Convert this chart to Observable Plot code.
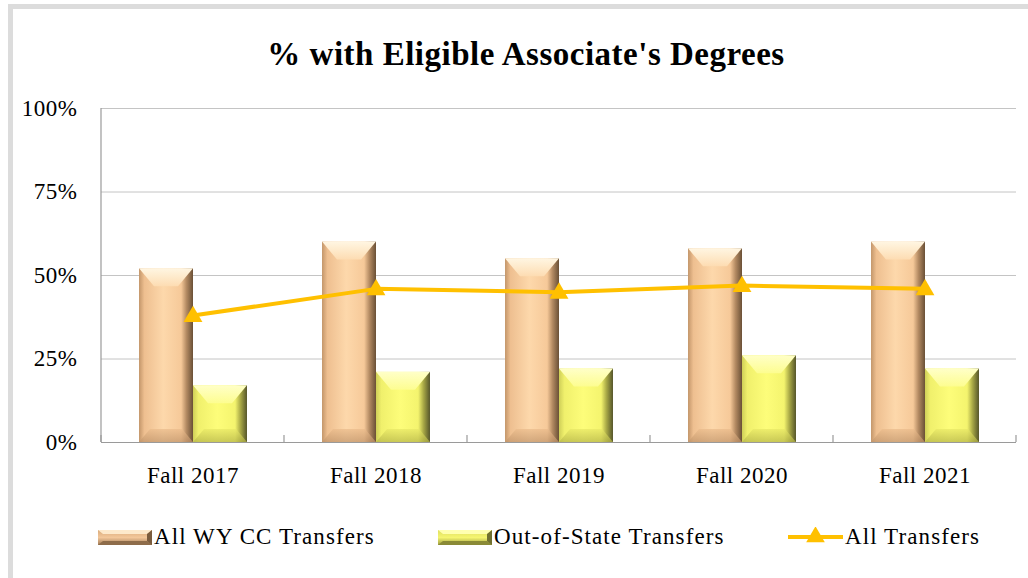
<!DOCTYPE html>
<html>
<head>
<meta charset="utf-8">
<script src="https://cdn.jsdelivr.net/npm/d3@7"></script>
<script src="https://cdn.jsdelivr.net/npm/@observablehq/plot@0.6"></script>
<style>
  html, body { margin: 0; padding: 0; background: #fff; }
  #wrap { position: relative; width: 1028px; height: 578px; overflow: hidden; background: #fff; font-family: "Liberation Serif", "DejaVu Serif", serif; }
  #border { position: absolute; left: 8px; top: 4px; width: 1200px; height: 800px; border-left: 5px solid #dcdcdc; border-top: 5px solid #dcdcdc; }
  #title { position: absolute; left: 24px; top: 36px; width: 1004px; text-align: center; font-weight: bold; font-size: 33px; letter-spacing: 0.5px; color: #000; }
  #chart { position: absolute; left: 0; top: 85px; }
  .leg { position: absolute; top: 522px; height: 30px; display: flex; align-items: center; font-size: 23px; letter-spacing: 1.1px; color: #000; white-space: nowrap; }
  .leg svg { display: block; margin-right: 1px; }
</style>
</head>
<body>
<div id="wrap">
  <div id="border"></div>
  <div id="title">% with Eligible Associate's Degrees</div>
  <div id="chart"></div>
  <div id="legend"></div>
</div>
<script>
// ---- data ----
const categories = ["Fall 2017", "Fall 2018", "Fall 2019", "Fall 2020", "Fall 2021"];
const seriesNames = ["All WY CC Transfers", "Out-of-State Transfers", "All Transfers"];
const wyTransfers = [0.52, 0.60, 0.55, 0.58, 0.60];
const outOfState = [0.17, 0.21, 0.22, 0.26, 0.22];
const allTransfers = [0.38, 0.46, 0.45, 0.47, 0.46];
const yTicks = [0, 0.25, 0.5, 0.75, 1];

const wyData = categories.map((c, i) => ({cat: c, v: wyTransfers[i]}));
const oosData = categories.map((c, i) => ({cat: c, v: outOfState[i]}));
const allData = categories.map((c, i) => ({cat: c, v: allTransfers[i]}));

const W = 1028, H = 410, ML = 101, MR = 12, MT = 23, MB = 53;
const bw = (W - ML - MR) / categories.length;
const barW = bw * 0.295;
const pairLeft = (bw - 2 * barW) / 2 + 0.5;

const lineColor = "#ffc000";

const plot = Plot.plot({
  width: W, height: H,
  marginLeft: ML, marginRight: MR, marginTop: MT, marginBottom: MB,
  style: {fontFamily: '"Liberation Serif", "DejaVu Serif", serif', fontSize: "23px", color: "#000", background: "transparent", letterSpacing: "0.5px"},
  x: {domain: categories, padding: 0, label: null},
  y: {domain: [0, 1], label: null},
  marks: [
    Plot.gridY({ticks: yTicks.filter(d => d > 0), stroke: "#c4c4c4", strokeOpacity: 1, strokeWidth: 1}),
    Plot.axisY({ticks: yTicks, tickFormat: d => Math.round(d * 100) + "%", tickSize: 0, tickPadding: 24, fontSize: 23, label: null}),
    Plot.axisX({tickSize: 0, tickPadding: 24, fontSize: 23, label: null}),
    Plot.barY(wyData, {x: "cat", y: "v", fill: "url(#gWY)", insetLeft: pairLeft, insetRight: bw - pairLeft - barW}),
    Plot.barY(oosData, {x: "cat", y: "v", fill: "url(#gOOS)", insetLeft: pairLeft + barW, insetRight: bw - pairLeft - 2 * barW}),
    Plot.ruleY([0], {stroke: "#9a9a9a", strokeWidth: 1.2}),
    Plot.lineY(allData, {x: "cat", y: "v", stroke: lineColor, strokeWidth: 4}),
    Plot.dot(allData, {x: "cat", y: "v", symbol: "triangle", r: 7, fill: lineColor, stroke: "none", dy: 1})
  ]
});

const svg = d3.select(plot);
const defs = svg.insert("defs", ":first-child");

function hGrad(id, stops) {
  const g = defs.append("linearGradient").attr("id", id).attr("x1", 0).attr("x2", 1).attr("y1", 0).attr("y2", 0);
  stops.forEach(([o, c]) => g.append("stop").attr("offset", o).attr("stop-color", c));
}
function vGrad(id, stops) {
  const g = defs.append("linearGradient").attr("id", id).attr("x1", 0).attr("x2", 0).attr("y1", 0).attr("y2", 1);
  stops.forEach(([o, c]) => g.append("stop").attr("offset", o).attr("stop-color", c));
}
hGrad("gWY", [[0, "#c3966a"], [0.1, "#eebf90"], [0.45, "#fdd8ab"], [0.78, "#f6c999"], [0.88, "#b38a62"], [1, "#6a5036"]]);
hGrad("gOOS", [[0, "#cfcf58"], [0.1, "#f0f06c"], [0.45, "#fdfd7a"], [0.78, "#f4f46e"], [0.88, "#a8a846"], [1, "#55552a"]]);
vGrad("gWYtop", [[0, "#fff6e2"], [1, "#fddcb2"]]);
vGrad("gOOStop", [[0, "#ffffc8"], [1, "#fdfd90"]]);
vGrad("gWYbot", [[0, "#eabb8b"], [1, "#c0946a"]]);
vGrad("gOOSbot", [[0, "#e8e866"], [1, "#b4b448"]]);

const bevel = {
  "url(#gWY)": {top: "url(#gWYtop)", bot: "url(#gWYbot)"},
  "url(#gOOS)": {top: "url(#gOOStop)", bot: "url(#gOOSbot)"}
};

svg.selectAll("g[aria-label='bar']").each(function() {
  const g = d3.select(this);
  const f = g.attr("fill");
  const b = bevel[f];
  if (!b) return;
  g.selectAll("rect").each(function() {
    const r = d3.select(this);
    const x = +r.attr("x"), y = +r.attr("y"), w = +r.attr("width"), h = +r.attr("height");
    const tH = Math.min(18, h / 3), tI = Math.min(15, w / 3);
    const bH = Math.min(13, h / 4), bI = Math.min(11, w / 4);
    g.append("polygon").attr("fill", b.top)
      .attr("points", `${x},${y} ${x + w},${y} ${x + w - tI},${y + tH} ${x + tI},${y + tH}`);
    g.append("polygon").attr("fill", b.bot).attr("opacity", 0.7)
      .attr("points", `${x},${y + h} ${x + w},${y + h} ${x + w - bI},${y + h - bH} ${x + bI},${y + h - bH}`);
  });
});

// axis frame lines & band-boundary ticks, derived from the plot's scales
const xs = plot.scale("x"), ys = plot.scale("y");
const y0 = ys.apply(0), y1 = ys.apply(1);
const xLeft = xs.apply(categories[0]);
const xRight = xs.apply(categories[categories.length - 1]) + xs.bandwidth;
const frame = svg.append("g").attr("stroke", "#9a9a9a").attr("stroke-width", 1.2);
frame.append("line").attr("x1", xLeft).attr("x2", xLeft).attr("y1", y1).attr("y2", y0);
const bounds = categories.map(c => xs.apply(c)).concat([xRight]);
bounds.forEach(bx => frame.append("line").attr("x1", bx).attr("x2", bx).attr("y1", y0 - 7).attr("y2", y0));
svg.selectAll("g[aria-label='line'], g[aria-label='dot']").raise();

document.getElementById("chart").appendChild(plot);

// ---- legend ----
const legend = document.getElementById("legend");
const legendLeft = [97, 437, 788];
function swatch(kind) {
  const s = d3.create("svg").attr("width", 56).attr("height", 20);
  const d = s.append("defs");
  if (kind < 2) {
    const id = kind === 0 ? "WY" : "OOS";
    const base = kind === 0
      ? [[0, "#d9ab7c"], [0.5, "#f3c79a"], [1, "#a07a55"]]
      : [[0, "#dede62"], [0.5, "#f5f570"], [1, "#9c9c40"]];
    const gv = d.append("linearGradient").attr("id", "lg" + id).attr("x1", 0).attr("x2", 0).attr("y1", 0).attr("y2", 1);
    base.forEach(([o, c]) => gv.append("stop").attr("offset", o).attr("stop-color", c));
    s.append("rect").attr("x", 1).attr("y", 3).attr("width", 54).attr("height", 15).attr("fill", `url(#lg${id})`);
    s.append("polygon").attr("points", "1,3 55,3 50,7 6,7").attr("fill", kind === 0 ? "#fde9cb" : "#ffffb0");
    s.append("polygon").attr("points", "1,18 55,18 50,14 6,14").attr("fill", kind === 0 ? "#8e6c4a" : "#8a8a36");
    s.append("polygon").attr("points", "55,3 55,18 50,14 50,7").attr("fill", kind === 0 ? "#7a5c3e" : "#707030");
  } else {
    s.append("line").attr("x1", 0).attr("x2", 55).attr("y1", 10).attr("y2", 10).attr("stroke", lineColor).attr("stroke-width", 4);
    s.append("path").attr("transform", "translate(27.5,10)").attr("d", d3.symbol(d3.symbolTriangle, 150)()).attr("fill", lineColor);
  }
  return s.node();
}
seriesNames.forEach((name, i) => {
  const item = document.createElement("div");
  item.className = "leg";
  item.style.left = legendLeft[i] + "px";
  item.appendChild(swatch(i));
  const t = document.createElement("span");
  t.textContent = name;
  item.appendChild(t);
  legend.appendChild(item);
});
</script>
</body>
</html>
